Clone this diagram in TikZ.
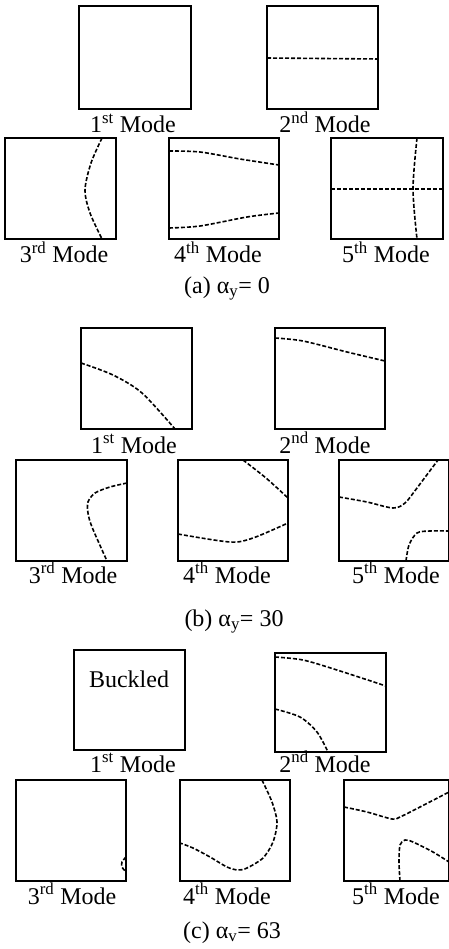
\documentclass[tikz,border=0pt]{standalone}
\usepackage{fontspec}
\setmainfont{Liberation Serif}
\tikzset{epais/.style={line width=1.7pt},
	nodalline/.style={line width=1.6pt, dash pattern=on 4pt off 2pt}}
\newcommand{\plaque}[2]{\draw[epais] (#1) rectangle (#2)}
\newcommand{\nodal}[0]{\draw[nodalline]}
\newcommand{\mode}[4]{\node[anchor=base] (#1) at (#2) {#3\textsuperscript{#4} Mode}}

\begin{document}
\begin{tikzpicture}[x=1pt, y=-1pt, every node/.style={font=\fontsize{24}{28}\selectfont, inner sep=0pt}]
\useasboundingbox (0,0) rectangle (449,949);
%(a) first row
	\plaque{79,6}{191,109};
	\plaque{267,6}{378,109};
	\nodal (267,58) -- (378,59);
	\mode{a1}{133,133}{1}{st};
	\mode{a2}{325,133}{2}{nd};
%(a) second row
	\plaque{5,138}{116,239};
	\nodal plot[smooth] coordinates {(102,138) (91,163) (85,190) (90,213) (102,239)};
	\plaque{169,138}{279,239};
	\nodal plot[smooth] coordinates {(169,151) (200,152) (240,159) (279,165)};
	\nodal plot[smooth] coordinates {(169,228) (200,226) (247,217) (279,213)};
	\plaque{331,138}{443,239};
	\nodal (331,189) -- (443,189);
	\nodal plot[smooth] coordinates {(417,138) (413,189) (417,239)};
	\mode{a3}{64,263}{3}{rd};
	\mode{a4}{218,263}{4}{th};
	\mode{a5}{386,263}{5}{th};
	\node[anchor=base] (capa) at (227,293) {(a) α\textsubscript{y}= 0};
%(b) first row
	\plaque{81,328}{192,429};
	\nodal plot[smooth] coordinates {(81,363) (113,375) (142,393) (175,429)};
	\plaque{275,328}{385,429};
	\nodal plot[smooth] coordinates {(275,338) (303,341) (347,352) (385,361)};
	\mode{b1}{134,453}{1}{st};
	\mode{b2}{325,453}{2}{nd};
%(b) second row
	\plaque{16,460}{127,561};
	\nodal plot[smooth] coordinates {(127,483) (110,487) (95,493) (88,502) (88,513) (92,527) (107,561)};
	\plaque{178,460}{288,561};
	\nodal plot[smooth] coordinates {(243,460) (266,478) (288,498)};
	\nodal plot[smooth] coordinates {(178,534) (230,542) (253,538) (288,523)};
	\plaque{339,460}{449,561};
	\nodal plot[smooth] coordinates {(339,497) (367,502) (393,508) (405,503) (417,488) (438,460)};
	\nodal plot[smooth] coordinates {(406,561) (409,545) (417,533) (430,531) (449,531)};
	\mode{b3}{73,583}{3}{rd};
	\mode{b4}{227,583}{4}{th};
	\mode{b5}{396,583}{5}{th};
	\node[anchor=base] (capb) at (234,626) {(b) α\textsubscript{y}= 30};
%(c) first row
	\plaque{74,650}{185,750};
	\node[anchor=base] (buck) at (129,687) {Buckled};
	\plaque{275,653}{386,752};
	\nodal plot[smooth] coordinates {(275,657) (303,660) (337,670) (386,686)};
	\nodal plot[smooth] coordinates {(275,709) (300,717) (317,732) (328,752)};
	\mode{c1}{133,772}{1}{st};
	\mode{c2}{325,772}{2}{nd};
%(c) second row
	\plaque{16,780}{126,881};
	\nodal plot[smooth] coordinates {(126,857) (122,862) (122,867) (126,872)};
	\plaque{180,780}{290,881};
	\nodal plot[smooth] coordinates {(262,780) (272,802) (277,822) (273,842) (263,858) (247,868) (238,870) (227,867) (210,857) (193,848) (180,843)};
	\plaque{344,780}{449,881};
	\nodal plot[smooth] coordinates {(344,807) (367,812) (392,819) (400,817) (420,807) (449,792)};
	\nodal plot[smooth] coordinates {(400,881) (399,862) (400,845) (405,840) (413,842) (433,852) (449,862)};
	\mode{c3}{72,904}{3}{rd};
	\mode{c4}{227,904}{4}{th};
	\mode{c5}{396,904}{5}{th};
	\node[anchor=base] (capc) at (232,938) {(c) α\textsubscript{v}= 63};
\end{tikzpicture}
\end{document}
